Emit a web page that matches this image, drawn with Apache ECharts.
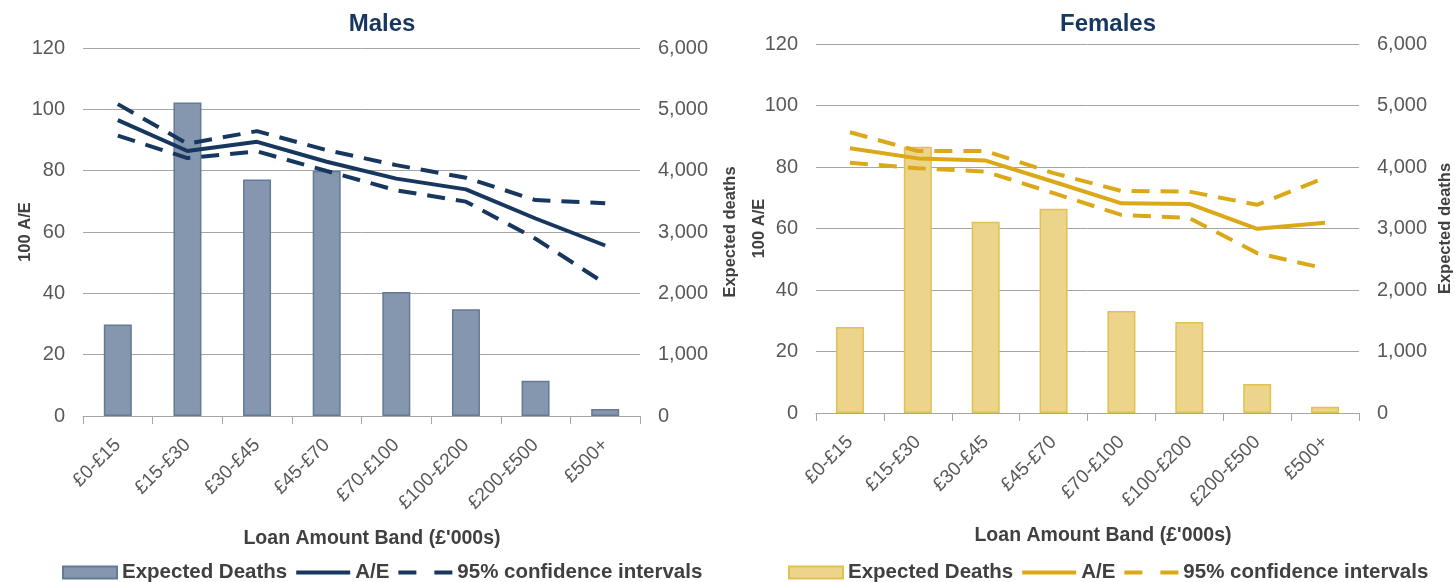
<!DOCTYPE html>
<html>
<head>
<meta charset="utf-8">
<script src="https://cdn.jsdelivr.net/npm/echarts@6/dist/echarts.min.js"></script>
<style>
  html, body { margin: 0; padding: 0; background: #fff; }
  #wrap { width: 1455px; height: 582px; position: relative; }
  .panel { position: absolute; left: 0; top: 0; width: 1455px; height: 582px; }
</style>
</head>
<body>
<div id="wrap">
  <div id="males" class="panel"></div>
  <div id="females" class="panel"></div>
</div>
<script>
// Loan amount bands ('000s)
const bands = ['£0-£15', '£15-£30', '£30-£45', '£45-£70', '£70-£100', '£100-£200', '£200-£500', '£500+'];

// Males
const maleExpected = [1490, 5110, 3855, 4000, 2020, 1740, 575, 115];
const maleAE = [96.5, 86.4, 89.4, 82.9, 77.4, 73.9, 64.4, 55.6];
const maleUpper = [101.7, 88.8, 92.9, 86.7, 81.8, 77.7, 70.4, 69.4];
const maleLower = [91.4, 84.1, 86.3, 79.9, 73.6, 69.9, 57.8, 43.2];

// Females
const femaleExpected = [1400, 4330, 3110, 3320, 1660, 1480, 470, 100];
const femaleAE = [86.1, 82.8, 82.1, 75.2, 68.2, 68.0, 59.9, 61.9];
const femaleUpper = [91.3, 85.2, 85.2, 78.0, 72.2, 72.0, 67.7, 76.5];
const femaleLower = [81.4, 79.6, 78.5, 71.5, 64.4, 63.4, 52.0, 47.0];

// Axis ticks
const aeTicks = { min: 0, max: 120, interval: 20 };
const deathTicks = { min: 0, max: 6000, interval: 1000 };

const FONT = '"Liberation Sans", Arial, sans-serif';
const TEXT = '#595959';
const DARK = '#404040';
const GRID = '#A6A6A6';
const CI_NAME = '95% confidence intervals';

function buildOption(cfg) {
  const lineSeries = (name, data, dashed) => ({
    name: name,
    type: 'line',
    yAxisIndex: 0,
    data: data,
    symbol: 'none',
    symbolKeepAspect: true,
    z: 3,
    lineStyle: { color: cfg.line, width: 4, type: dashed ? [18, 11] : 'solid', cap: 'butt' },
    itemStyle: { color: cfg.line }
  });
  const g = cfg.grid;
  return {
    animation: false,
    textStyle: { fontFamily: FONT },
    title: {
      text: cfg.title,
      left: cfg.titleX,
      textAlign: 'center',
      top: 7,
      textStyle: { fontFamily: FONT, fontSize: 24, fontWeight: 'bold', color: '#17375E' }
    },
    grid: { left: g.left, top: g.top, width: g.width, height: g.height, containLabel: false, outerBoundsMode: 'none' },
    legend: {
      top: 557,
      left: cfg.legendLeft,
      itemWidth: 54,
      itemHeight: 12,
      itemGap: 9,
      textStyle: { fontFamily: FONT, fontSize: 20.5, fontWeight: 'bold', color: DARK },
      data: [
        { name: 'Expected Deaths', icon: 'rect' },
        { name: 'A/E', icon: 'path://M0,0H54V4H0Z' },
        { name: CI_NAME, icon: 'path://M0,0H18V4H0ZM36,0H54V4H36Z' }
      ]
    },
    xAxis: {
      type: 'category',
      data: bands,
      boundaryGap: true,
      axisLine: { lineStyle: { color: GRID, width: 1 } },
      axisTick: { show: true, length: 8, lineStyle: { color: GRID } },
      axisLabel: {
        rotate: 45,
        margin: 26,
        fontFamily: FONT,
        fontSize: 19,
        color: TEXT
      },
      name: "Loan Amount Band (£'000s)",
      nameLocation: 'middle',
      nameGap: 113,
      nameMoveOverlap: false,
      nameTextStyle: { fontFamily: FONT, fontSize: 19.5, fontWeight: 'bold', color: DARK, padding: [0, 0, 0, cfg.xNameShift] }
    },
    yAxis: [
      {
        type: 'value',
        min: aeTicks.min, max: aeTicks.max, interval: aeTicks.interval,
        axisLine: { show: false },
        axisTick: { show: false },
        splitLine: { lineStyle: { color: GRID, width: 1 } },
        axisLabel: { margin: 18, fontFamily: FONT, fontSize: 20, color: TEXT },
        name: '100 A/E',
        nameLocation: 'middle',
        nameRotate: 90,
        nameGap: cfg.leftNameGap,
        nameMoveOverlap: false,
        nameTextStyle: { fontFamily: FONT, fontSize: 16.5, fontWeight: 'bold', color: DARK }
      },
      {
        type: 'value',
        position: 'right',
        min: deathTicks.min, max: deathTicks.max, interval: deathTicks.interval,
        axisLine: { show: false },
        axisTick: { show: false },
        splitLine: { show: false },
        axisLabel: {
          margin: 18, fontFamily: FONT, fontSize: 20, color: TEXT,
          formatter: v => v.toLocaleString('en-GB')
        },
        name: 'Expected deaths',
        nameLocation: 'middle',
        nameRotate: 90,
        nameGap: cfg.rightNameGap,
        nameMoveOverlap: false,
        nameTextStyle: { fontFamily: FONT, fontSize: 16.5, fontWeight: 'bold', color: DARK }
      }
    ],
    series: [
      {
        name: 'Expected Deaths',
        type: 'bar',
        yAxisIndex: 1,
        data: cfg.expected,
        barWidth: 28,
        z: 2,
        itemStyle: { color: cfg.barFill, borderColor: cfg.barBorder, borderWidth: 1.5 }
      },
      lineSeries('A/E', cfg.ae, false),
      lineSeries(CI_NAME, cfg.upper, true),
      lineSeries(CI_NAME, cfg.lower, true)
    ]
  };
}

const males = echarts.init(document.getElementById('males'));
males.setOption(buildOption({
  title: 'Males',
  titleX: 377,
  grid: { left: 83, top: 48, width: 557, height: 368 },
  legendLeft: 57,
  xNameShift: 21,
  leftNameGap: 49,
  rightNameGap: 82,
  line: '#17375E',
  barFill: '#8597AE',
  barBorder: '#647A96',
  expected: maleExpected,
  ae: maleAE,
  upper: maleUpper,
  lower: maleLower
}));

const females = echarts.init(document.getElementById('females'));
females.setOption(buildOption({
  title: 'Females',
  titleX: 1103,
  grid: { left: 816, top: 44, width: 543, height: 369 },
  legendLeft: 783,
  xNameShift: 31,
  leftNameGap: 48,
  rightNameGap: 78,
  line: '#DBA917',
  barFill: '#ECD48B',
  barBorder: '#E2C152',
  expected: femaleExpected,
  ae: femaleAE,
  upper: femaleUpper,
  lower: femaleLower
}));
</script>
</body>
</html>
